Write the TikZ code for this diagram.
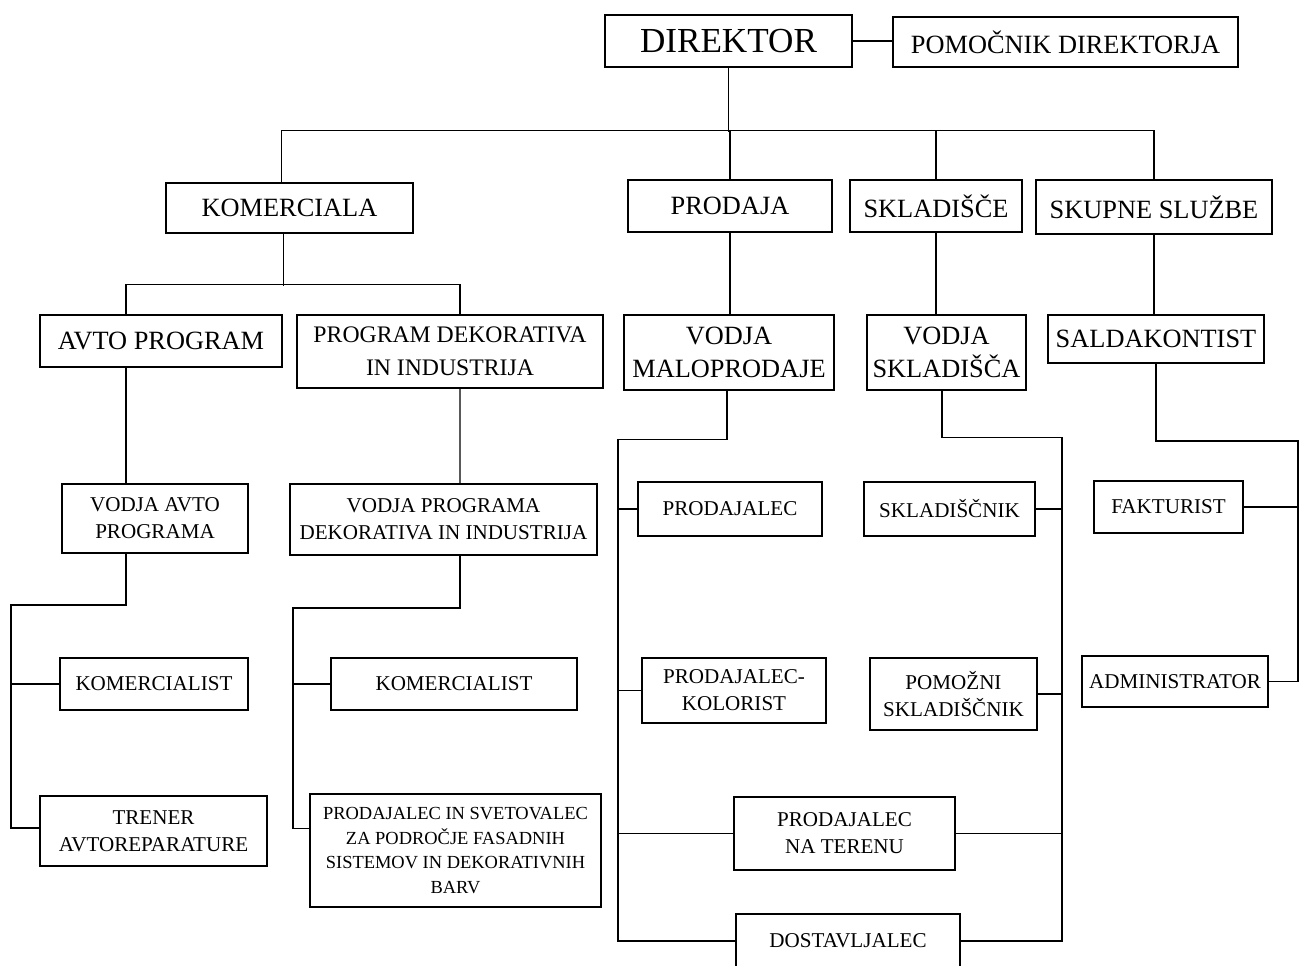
\documentclass[tikz,border=0pt]{standalone}
\usepackage{fontspec}
\setmainfont{Liberation Serif}
\usepackage{tikz}
\usetikzlibrary{calc}

\begin{document}
\begin{tikzpicture}[
    x=0.02cm, y=-0.02cm,
    block/.style={draw, line width=1.1pt, inner sep=0pt, align=center},
    big/.style={font=\fontsize{20}{24}\selectfont},
    mid/.style={font=\fontsize{15}{18.7}\selectfont},
    small/.style={font=\fontsize{12}{15.3}\selectfont},
    conn/.style={line width=0.6pt},
]
    \useasboundingbox (0,0) rectangle (1299,965);

    % Top
    \node[block, big, minimum width=4.94cm, minimum height=1.04cm] (direktor) at (728.5,41) {DIREKTOR};
    \node[block, mid, minimum width=6.9cm, minimum height=1.0cm] (pomocnik) at (1065.5,42) {POMOČNIK DIREKTORJA};

    % Sectors
    \node[block, mid, minimum width=4.94cm, minimum height=1.0cm] (komerciala) at (289.5,208) {KOMERCIALA};
    \node[block, mid, minimum width=4.08cm, minimum height=1.04cm] (prodaja) at (730,206) {PRODAJA};
    \node[block, mid, minimum width=3.44cm, minimum height=1.04cm] (skladisce) at (936,206) {SKLADIŠČE};
    \node[block, mid, minimum width=4.72cm, minimum height=1.08cm] (skupne) at (1154,207) {SKUPNE SLUŽBE};

    % Heads
    \node[block, mid, minimum width=4.84cm, minimum height=1.04cm] (avto) at (161,341) {AVTO PROGRAM};
    \node[block, font=\fontsize{13.5}{19}\selectfont, minimum width=6.12cm, minimum height=1.46cm] (progdek) at (450,351.5) {PROGRAM DEKORATIVA\\IN INDUSTRIJA};
    \node[block, mid, minimum width=4.2cm, minimum height=1.5cm] (vodjamalo) at (729,352.5) {VODJA\\MALOPRODAJE};
    \node[block, mid, minimum width=3.18cm, minimum height=1.5cm] (vodjaskl) at (946.5,352.5) {VODJA\\SKLADIŠČA};
    \node[block, mid, minimum width=4.32cm, minimum height=0.96cm] (saldak) at (1156,339) {SALDAKONTIST};

    % Staff
    \node[block, small, minimum width=3.72cm, minimum height=1.38cm] (vodjaavto) at (155,518.5) {VODJA AVTO\\PROGRAMA};
    \node[block, small, minimum width=6.14cm, minimum height=1.42cm] (vodjaprog) at (443.5,519.5) {VODJA PROGRAMA\\DEKORATIVA IN INDUSTRIJA};
    \node[block, small, minimum width=3.76cm, minimum height=1.04cm] (komer1) at (154,684) {KOMERCIALIST};
    \node[block, small, minimum width=4.92cm, minimum height=1.04cm] (komer2) at (454,684) {KOMERCIALIST};
    \node[block, small, minimum width=4.54cm, minimum height=1.4cm] (trener) at (153.5,831) {TRENER\\AVTOREPARATURE};
    \node[block, font=\fontsize{10.5}{14.2}\selectfont, minimum width=5.82cm, minimum height=2.26cm] (svetovalec) at (455.5,850.5) {PRODAJALEC IN SVETOVALEC\\ZA PODROČJE FASADNIH\\SISTEMOV IN DEKORATIVNIH\\BARV};

    \node[block, small, minimum width=3.68cm, minimum height=1.08cm] (prodajalec) at (730,509) {PRODAJALEC};
    \node[block, small, minimum width=3.68cm, minimum height=1.3cm] (kolorist) at (734,690.5) {PRODAJALEC-\\KOLORIST};
    \node[block, small, minimum width=4.42cm, minimum height=1.46cm] (teren) at (844.5,833.5) {PRODAJALEC\\NA TERENU};
    \node[block, small, minimum width=4.48cm, minimum height=1.08cm] (dostav) at (848,941) {DOSTAVLJALEC};
    \node[block, small, minimum width=3.42cm, minimum height=1.08cm] (skladiscnik) at (949.5,509) {SKLADIŠČNIK};
    \node[block, small, minimum width=3.34cm, minimum height=1.44cm] (pomozni) at (953.5,694) {POMOŽNI\\SKLADIŠČNIK};
    \node[block, small, minimum width=2.98cm, minimum height=1.04cm] (fakturist) at (1168.5,507) {FAKTURIST};
    \node[block, small, minimum width=3.72cm, minimum height=1.02cm] (admin) at (1175,681.5) {ADMINISTRATOR};

    % Top links
    \draw[conn] (direktor.east) -- (direktor.east -| pomocnik.west);
    \draw[conn] (direktor.south) -- ++(0,64);
    \draw[conn] ($(komerciala.north)+(-8,0)$) -- ++(0,-52) -| (skupne.north);
    \draw[conn] (prodaja.north) -- ++(0,-49);
    \draw[conn] (skladisce.north) -- ++(0,-49);

    % Komerciala
    \draw[conn] ($(komerciala.south)+(-6,0)$) -- ++(0,52);
    \draw[conn] ($(avto.north)+(-35,0)$) -- ++(0,-30) -| ($(progdek.north)+(10,0)$);
    \draw[conn] ($(avto.south)+(-35,0)$) -- ($(vodjaavto.north)+(-29,0)$);
    \draw[conn] ($(progdek.south)+(10,0)$) -- ($(vodjaprog.north)+(16.5,0)$);
    \draw[conn] ($(vodjaavto.south)+(-29,0)$) -- ++(0,51) -- ++(-115,0) |- ($(trener.west)+(0,-3)$);
    \draw[conn] (komer1.west) -- ++(-49,0);
    \draw[conn] ($(vodjaprog.south)+(16.5,0)$) -- ++(0,52) -- ++(-167,0) |- ($(svetovalec.west)+(0,-22)$);
    \draw[conn] (komer2.west) -- ++(-38,0);

    % Prodaja, skladisce, skupne sluzbe
    \draw[conn] (prodaja.south) -- (prodaja.south |- vodjamalo.north);
    \draw[conn] (skladisce.south) -- (skladisce.south |- vodjaskl.north);
    \draw[conn] (skupne.south) -- (skupne.south |- saldak.north);

    \draw[conn] ($(vodjamalo.south)+(-2,0)$) -- ++(0,49) -- ++(-109,0) |- (dostav.west);
    \draw[conn] (prodajalec.west) -- ++(-20,0);
    \draw[conn] (kolorist.west) -- ++(-24,0);
    \draw[conn] (teren.west) -- ++(-116,0);

    \draw[conn] ($(vodjaskl.south)+(-4.5,0)$) -- ++(0,47) -- ++(120,0) |- (dostav.east);
    \draw[conn] (skladiscnik.east) -- ++(27,0);
    \draw[conn] (pomozni.east) -- ++(25,0);
    \draw[conn] (teren.east) -- ++(107,0);

    \draw[conn] (saldak.south) -- ++(0,77) -- ++(142,0) |- (admin.east);
    \draw[conn] (fakturist.east) -- ++(55,0);
\end{tikzpicture}
\end{document}
